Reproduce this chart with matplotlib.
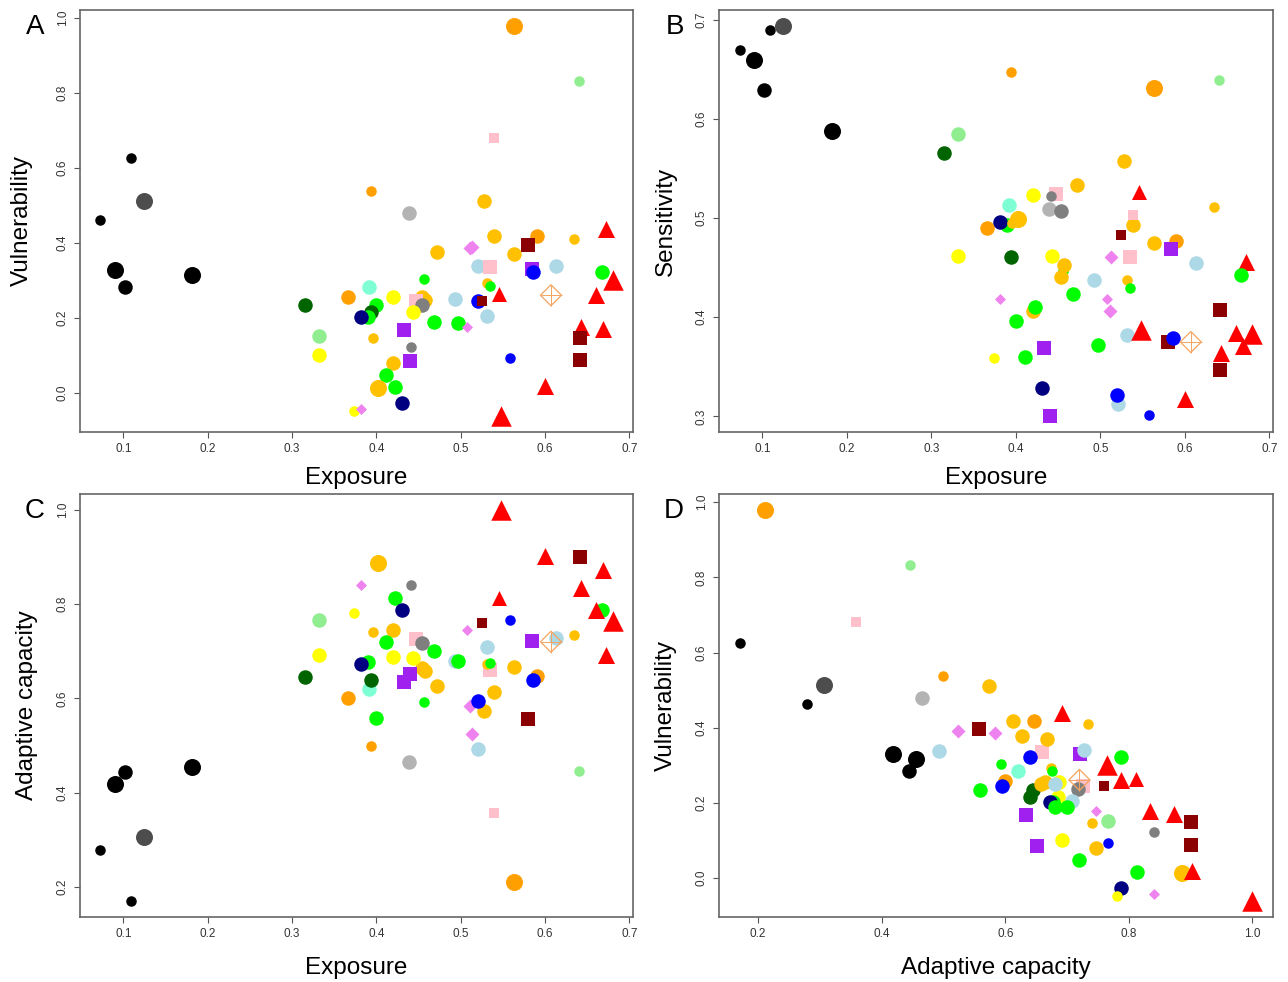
import numpy as np
import matplotlib.pyplot as plt

plt.rcParams['font.family'] = ['Liberation Sans', 'DejaVu Sans']

# one entry per site, same order in every array
group = [
    'black', 'black', 'black', 'black', 'dimgrey', 'black',
    'orange', 'lightgrey', 'gold', 'gold', 'gold', 'violet', 'violet',
    'lightblue', 'pink', 'green', 'aquamarine', 'orange', 'darkgreen',
    'yellow', 'gold', 'gold', 'pink', 'grey', 'yellow', 'lightblue',
    'blue', 'darkred', 'lightblue', 'green', 'darkgreen', 'green', 'navy',
    'green', 'green', 'violet', 'purple', 'lightgreen', 'gold', 'grey',
    'yellow', 'purple', 'gold', 'green', 'gold', 'green', 'navy', 'yellow',
    'violet', 'orange', 'darkred', 'gold', 'gold', 'red', 'purple', 'blue',
    'lightblue', 'gold', 'green', 'red', 'sandy', 'green', 'red', 'red',
    'red', 'red', 'darkred', 'darkred', 'blue', 'red', 'red', 'orange',
    'lightgreen', 'pink',
]
size_class = [
    1, 3, 2, 1, 3, 3,
    1, 2, 2, 2, 2, 2, 2,
    2, 2, 1, 2, 2, 2,
    2, 2, 2, 2, 2, 2, 2,
    2, 1, 2, 2, 2, 2, 2,
    2, 2, 1, 2, 2, 1, 1,
    2, 2, 2, 2, 3, 2, 2, 1,
    1, 2, 2, 2, 1, 2, 2, 2,
    2, 1, 1, 1, 2, 2, 3, 2,
    2, 2, 2, 2, 1, 2, 3, 3,
    1, 1,
]
exposure = [
    0.073, 0.0905, 0.1017, 0.1095, 0.125, 0.182,
    0.394, 0.439, 0.528, 0.539, 0.472, 0.513, 0.511,
    0.521, 0.5345, 0.456, 0.3915, 0.366, 0.315,
    0.420, 0.4575, 0.454, 0.4476, 0.4536, 0.443, 0.493,
    0.520, 0.525, 0.531, 0.400, 0.394, 0.390, 0.3816,
    0.468, 0.497, 0.508, 0.433, 0.332, 0.396, 0.441,
    0.332, 0.4405, 0.420, 0.411, 0.402, 0.4227, 0.431, 0.3737,
    0.3816, 0.590, 0.580, 0.563, 0.634, 0.672, 0.584, 0.586,
    0.613, 0.531, 0.5345, 0.546, 0.607, 0.667, 0.680, 0.661,
    0.643, 0.669, 0.642, 0.641, 0.558, 0.600, 0.548, 0.563,
    0.640, 0.539,
]
sensitivity = [
    0.669, 0.659, 0.629, 0.690, 0.694, 0.588,
    0.647, 0.5095, 0.558, 0.493, 0.533, 0.461, 0.406,
    0.312, 0.461, 0.447, 0.513, 0.490, 0.566,
    0.523, 0.453, 0.441, 0.524, 0.5075, 0.462, 0.438,
    0.322, 0.483, 0.3825, 0.396, 0.461, 0.493, 0.496,
    0.4235, 0.372, 0.418, 0.369, 0.585, 0.495, 0.522,
    0.462, 0.300, 0.406, 0.360, 0.499, 0.410, 0.329, 0.3586,
    0.418, 0.477, 0.375, 0.475, 0.511, 0.456, 0.469, 0.379,
    0.455, 0.438, 0.4295, 0.526, 0.375, 0.443, 0.3835, 0.384,
    0.364, 0.371, 0.407, 0.347, 0.301, 0.318, 0.3875, 0.631,
    0.6395, 0.503,
]
adaptive_capacity = [
    0.279, 0.419, 0.444, 0.170, 0.306, 0.455,
    0.500, 0.465, 0.573, 0.613, 0.627, 0.524, 0.584,
    0.493, 0.660, 0.593, 0.620, 0.600, 0.645,
    0.687, 0.658, 0.665, 0.726, 0.717, 0.686, 0.680,
    0.594, 0.759, 0.708, 0.559, 0.640, 0.678, 0.673,
    0.700, 0.680, 0.746, 0.634, 0.766, 0.740, 0.840,
    0.692, 0.652, 0.746, 0.720, 0.886, 0.813, 0.787, 0.780,
    0.840, 0.647, 0.557, 0.667, 0.734, 0.691, 0.721, 0.640,
    0.727, 0.674, 0.676, 0.812, 0.720, 0.788, 0.765, 0.787,
    0.834, 0.873, 0.900, 0.900, 0.766, 0.902, 1.000, 0.212,
    0.446, 0.358,
]
vulnerability = [
    0.462, 0.329, 0.284, 0.626, 0.513, 0.316,
    0.538, 0.480, 0.512, 0.418, 0.377, 0.390, 0.386,
    0.339, 0.335, 0.303, 0.284, 0.257, 0.234,
    0.2555, 0.249, 0.255, 0.245, 0.236, 0.216, 0.250,
    0.2456, 0.2456, 0.206, 0.235, 0.215, 0.203, 0.2035,
    0.190, 0.188, 0.177, 0.169, 0.151, 0.147, 0.122,
    0.102, 0.086, 0.079, 0.049, 0.013, 0.016, -0.027, -0.048,
    -0.042, 0.418, 0.396, 0.371, 0.411, 0.438, 0.331, 0.322,
    0.340, 0.294, 0.285, 0.264, 0.261, 0.322, 0.302, 0.262,
    0.177, 0.170, 0.148, 0.087, 0.093, 0.018, -0.062, 0.980,
    0.832, 0.681,
]

# colour and marker for each group
STYLE = {
    'black': ('#000000', 'o'),
    'dimgrey': ('#4D4D4D', 'o'),
    'lightgrey': ('#B3B3B3', 'o'),
    'grey': ('#7F7F7F', 'o'),
    'darkgreen': ('#006400', 'o'),
    'lightgreen': ('#90EE90', 'o'),
    'green': ('#00FF00', 'o'),
    'yellow': ('#FFFF00', 'o'),
    'gold': ('#FFC000', 'o'),
    'orange': ('#FFA000', 'o'),
    'aquamarine': ('#7FFFD4', 'o'),
    'navy': ('#000080', 'o'),
    'blue': ('#0000FF', 'o'),
    'lightblue': ('#ADD8E6', 'o'),
    'violet': ('#EE82EE', 'D'),
    'purple': ('#A020F0', 's'),
    'pink': ('#FFC0CB', 's'),
    'darkred': ('#8B0000', 's'),
    'red': ('#FF0000', '^'),
    'sandy': ('#F4A460', 'open'),
}
# marker extent in pixels for each size class
SIZE_PX = {
    'o': {1: 10.5, 2: 14.5, 3: 17.0},
    's': {1: 9.5, 2: 14.5, 3: 17.0},
    '^': {1: 15.0, 2: 17.0, 3: 20.5},
    'D': {1: 11.0, 2: 14.0, 3: 17.0},
    'open': {1: 21.0, 2: 21.0, 3: 21.0},
}
DPI = 100


def area(px):
    pt = px * 72 / DPI
    return pt ** 2


def r_limits(values):
    lo, hi = min(values), max(values)
    pad = 0.04 * (hi - lo)
    return lo - pad, hi + pad


def draw_panel(ax, x, y, xticks, yticks, xlabel, ylabel, xlab_pos, ylab_pos):
    for xi, yi, g, c in zip(x, y, group, size_class):
        color, marker = STYLE[g]
        px = SIZE_PX[marker][c]
        if marker == 'open':
            ax.scatter(xi, yi, s=area(px / np.sqrt(2)), marker='D',
                       facecolors='none', edgecolors=color, linewidths=0.9)
            ax.scatter(xi, yi, s=area(px), marker='+', color=color,
                       linewidths=0.7)
        elif marker == 'D':
            ax.scatter(xi, yi, s=area(px / np.sqrt(2)), marker='D',
                       color=color, linewidths=0)
        else:
            ax.scatter(xi, yi, s=area(px), marker=marker, color=color,
                       linewidths=0)

    ax.set_xlim(*r_limits(x))
    ax.set_ylim(*r_limits(y))
    ax.set_xticks(xticks)
    ax.set_xticklabels([f"{t:.1f}" for t in xticks])
    ax.set_yticks(yticks)
    ax.set_yticklabels([f"{t:.1f}" for t in yticks], rotation=90, va='center')
    ax.tick_params(direction='out', length=4, width=0.8, colors='#555555',
                   labelcolor='#333333', labelsize=8.5, pad=4)
    for spine in ax.spines.values():
        spine.set_color('#666666')
        spine.set_linewidth(1.2)

    ax.set_xlabel(xlabel, fontsize=17.5, va='center')
    ax.set_ylabel(ylabel, fontsize=17.5, va='center')
    ax.xaxis.set_label_coords(0.5, xlab_pos)
    ax.yaxis.set_label_coords(ylab_pos, 0.5)


fig = plt.figure(figsize=(12.88, 9.82), dpi=DPI)
W, H = 1288, 982


def add_axes(left, top, right, bottom):
    return fig.add_axes([left / W, 1 - bottom / H, (right - left) / W,
                         (bottom - top) / H])


ax_a = add_axes(80, 10, 633, 432)
ax_b = add_axes(719, 10, 1273, 432)
ax_c = add_axes(80, 494, 633, 917)
ax_d = add_axes(719, 494, 1273, 917)

expo_ticks = [0.1, 0.2, 0.3, 0.4, 0.5, 0.6, 0.7]
draw_panel(ax_a, exposure, vulnerability, expo_ticks,
           [0.0, 0.2, 0.4, 0.6, 0.8, 1.0], 'Exposure', 'Vulnerability',
           -0.109, -0.105)
draw_panel(ax_b, exposure, sensitivity, expo_ticks,
           [0.3, 0.4, 0.5, 0.6, 0.7], 'Exposure', 'Sensitivity',
           -0.109, -0.096)
draw_panel(ax_c, exposure, adaptive_capacity, expo_ticks,
           [0.2, 0.4, 0.6, 0.8, 1.0], 'Exposure', 'Adaptive capacity',
           -0.121, -0.096)
draw_panel(ax_d, adaptive_capacity, vulnerability, [0.2, 0.4, 0.6, 0.8, 1.0],
           [0.0, 0.2, 0.4, 0.6, 0.8, 1.0], 'Adaptive capacity',
           'Vulnerability', -0.121, -0.096)

for letter, (px, py) in zip('ABCD', [(35, 27), (675, 27), (35, 511), (674, 511)]):
    fig.text(px / W, 1 - py / H, letter, fontsize=20, ha='center', va='center')

fig.savefig('out.png', dpi=DPI)
